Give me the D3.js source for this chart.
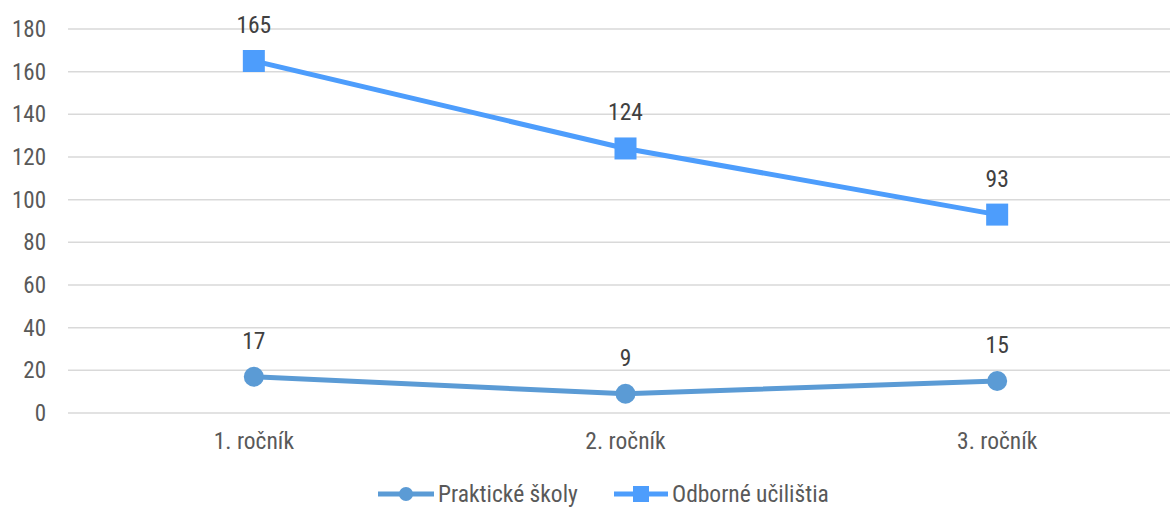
<!DOCTYPE html>
<html>
<head>
<meta charset="utf-8">
<script src="https://cdn.jsdelivr.net/npm/d3@7"></script>
<style>
  body { margin: 0; background: #fff; }
  text { font-family: Roboto, "Noto Sans", sans-serif; font-stretch: condensed; }
</style>
</head>
<body>
<div id="chart"></div>
<script>
// data
const categories = ["1. ročník", "2. ročník", "3. ročník"];
const praktickeSkoly = [17, 9, 15];
const odborneUcilistia = [165, 124, 93];
const seriesNames = ["Praktické školy", "Odborné učilištia"];
const yTicks = [0, 20, 40, 60, 80, 100, 120, 140, 160, 180];

const width = 1170, height = 507;
const FONT = 23.5;

const svg = d3.select("#chart").append("svg")
    .attr("width", width)
    .attr("height", height);

const x = d3.scaleBand()
    .domain(categories)
    .range([68, 1183]);

const y = d3.scaleLinear()
    .domain([0, 180])
    .range([413, 29]);

// gridlines
svg.append("g")
    .selectAll("line")
    .data(yTicks)
    .enter().append("line")
        .attr("x1", 68)
        .attr("x2", width)
        .attr("y1", d => y(d))
        .attr("y2", d => y(d))
        .attr("stroke", "#d9d9d9")
        .attr("stroke-width", 1.5);

// y axis labels
const yAxis = d3.axisLeft(y).tickValues(yTicks).tickSize(0).tickPadding(0);
svg.append("g")
    .attr("transform", "translate(46,0)")
    .call(yAxis)
    .call(g => g.select(".domain").remove())
    .call(g => g.selectAll("text")
        .attr("font-size", 23)
        .attr("fill", "#595959")
        .attr("font-family", "Roboto, sans-serif"));

// x axis labels
const xAxis = d3.axisBottom(x).tickSize(0).tickPadding(0);
svg.append("g")
    .attr("transform", "translate(0,432)")
    .call(xAxis)
    .call(g => g.select(".domain").remove())
    .call(g => g.selectAll("text")
        .attr("font-size", FONT)
        .attr("fill", "#595959")
        .attr("font-family", "Roboto, sans-serif"));

const cx = d => x(d.cat) + x.bandwidth() / 2;

const line = d3.line()
    .x(cx)
    .y(d => y(d.value));

const series = [
    {name: seriesNames[0], values: praktickeSkoly, color: "#5b9bd5", marker: "circle"},
    {name: seriesNames[1], values: odborneUcilistia, color: "#4d9dfc", marker: "square"}
];

series.forEach(s => {
    const pts = s.values.map((v, i) => ({cat: categories[i], value: v}));
    const g = svg.append("g");
    g.append("path")
        .datum(pts)
        .attr("d", line)
        .attr("fill", "none")
        .attr("stroke", s.color)
        .attr("stroke-width", 5)
        .attr("stroke-linejoin", "round");
    if (s.marker === "circle") {
        g.selectAll("circle")
            .data(pts)
            .enter().append("circle")
                .attr("cx", cx)
                .attr("cy", d => y(d.value))
                .attr("r", 10)
                .attr("fill", s.color);
    } else {
        g.selectAll("rect")
            .data(pts)
            .enter().append("rect")
                .attr("x", d => cx(d) - 11)
                .attr("y", d => y(d.value) - 11)
                .attr("width", 22)
                .attr("height", 22)
                .attr("fill", s.color);
    }
    g.selectAll("text")
        .data(pts)
        .enter().append("text")
            .attr("x", cx)
            .attr("y", d => y(d.value) - 28)
            .attr("text-anchor", "middle")
            .attr("font-size", FONT)
            .attr("fill", "#404040")
            .text(d => d.value);
});

// legend
const legendItems = [
    {x: 378, textX: 438, s: series[0]},
    {x: 614, textX: 672, s: series[1]}
];
const legend = svg.append("g");
legendItems.forEach(it => {
    const ly = 494;
    legend.append("line")
        .attr("x1", it.x)
        .attr("x2", it.textX - 4)
        .attr("y1", ly)
        .attr("y2", ly)
        .attr("stroke", it.s.color)
        .attr("stroke-width", 5);
    const mid = (it.x + it.textX - 4) / 2;
    if (it.s.marker === "circle") {
        legend.append("circle")
            .attr("cx", mid)
            .attr("cy", ly)
            .attr("r", 7)
            .attr("fill", it.s.color);
    } else {
        legend.append("rect")
            .attr("x", mid - 8)
            .attr("y", ly - 8)
            .attr("width", 16)
            .attr("height", 16)
            .attr("fill", it.s.color);
    }
    legend.append("text")
        .attr("x", it.textX)
        .attr("y", 502)
        .attr("font-size", FONT)
        .attr("fill", "#595959")
        .text(it.s.name);
});
</script>
</body>
</html>
